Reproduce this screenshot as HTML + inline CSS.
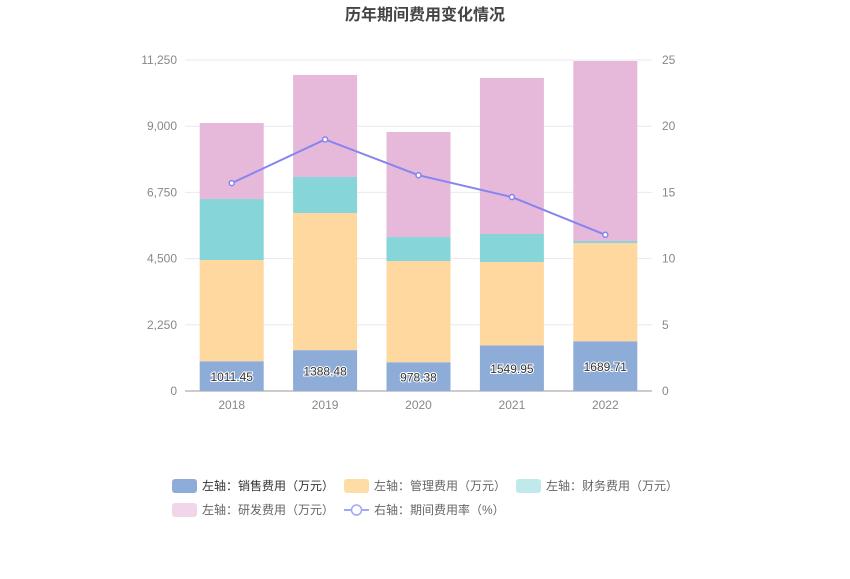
<!DOCTYPE html>
<html><head><meta charset="utf-8"><style>
body{margin:0;background:#fff;font-family:"Liberation Sans","Noto Sans CJK SC",sans-serif;}
</style></head><body>
<svg id="c" width="850" height="574" xmlns="http://www.w3.org/2000/svg" style="font-family:'Liberation Sans','Noto Sans CJK SC',sans-serif">
<text x="425" y="20" text-anchor="middle" font-size="16" font-weight="bold" fill="#444">历年期间费用变化情况</text>
<g id="grid"></g><g id="bars"></g><g id="line"></g><g id="axes"></g>
<g font-size="12" fill="#666">
<rect x="172" y="479" width="25" height="14" rx="3" fill="#8eacd8"/>
<text x="202" y="490" fill="#333">左轴：销售费用（万元）</text>
<rect x="344" y="479" width="25" height="14" rx="3" fill="#fedca6"/>
<text x="374" y="490">左轴：管理费用（万元）</text>
<rect x="516" y="479" width="25" height="14" rx="3" fill="#bfe9ea"/>
<text x="546" y="490">左轴：财务费用（万元）</text>
<rect x="172" y="503" width="25" height="14" rx="3" fill="#f1d6ea"/>
<text x="202" y="514">左轴：研发费用（万元）</text>
<line x1="344" y1="510" x2="369" y2="510" stroke="#a3a7f5" stroke-width="2"/>
<circle cx="356.5" cy="510" r="5" fill="#fff" stroke="#a3a7f5" stroke-width="1.5"/>
<text x="374" y="514">右轴：期间费用率（%）</text>
</g>
</svg>
<script>
const years=["2018","2019","2020","2021","2022"];
const sales=[1011.45,1388.48,978.38,1549.95,1689.71];
const mgmt=[3440,4662,3440,2835,3340];
const finance=[2073,1224,815,951,68];
const rd=[2584,3467,3569,5303,6119];
const rate=[15.7,19.0,16.3,14.65,11.8];
const leftTicks=[0,2250,4500,6750,9000,11250];
const rightTicks=[0,5,10,15,20,25];
const NS="http://www.w3.org/2000/svg";
const X0=185,X1=652,Y0=391,Y1=60;
const yL=v=>Y0-(v/11250)*(Y0-Y1);
const yR=v=>Y0-(v/25)*(Y0-Y1);
const step=(X1-X0)/years.length;
const xC=i=>X0+step*(i+0.5);
function mk(t,a,p){const e=document.createElementNS(NS,t);for(const k in a)e.setAttribute(k,a[k]);document.getElementById(p).appendChild(e);return e;}
leftTicks.forEach((v,i)=>{
 const g=mk('line',{x1:X0,x2:X1,y1:yL(v),y2:yL(v),stroke:i?'#e8e8f0':'#999'},'grid');
 
 
 const t=mk('text',{x:X0-8,y:yL(v)+4,'text-anchor':'end','font-size':12,fill:'#888'},'axes');t.textContent=v.toLocaleString('en-US');
 
 
});
rightTicks.forEach(v=>{
 const t=mk('text',{x:X1+10,y:yR(v)+4,'font-size':12,fill:'#888'},'axes');t.textContent=v;
 
 
});
const series=[[sales,'#8eacd8','bar-sales'],[mgmt,'#fed89f','bar-mgmt'],[finance,'#86d6d9','bar-finance'],[rd,'#e6b8da','bar-rd']];
years.forEach((y,i)=>{
 let acc=0;const w=64,x=xC(i)-w/2;
 series.forEach(([arr,col,nm])=>{
  const b=mk('rect',{x:x,y:yL(acc+arr[i]),width:w,height:yL(acc)-yL(acc+arr[i]),fill:col},'bars');
  
  
  acc+=arr[i];
 });
 const l=mk('text',{x:xC(i),y:yL(sales[i]/2)+5,'text-anchor':'middle','font-size':12,fill:'#333',stroke:'#fff','stroke-width':2,'paint-order':'stroke'},'bars');
 l.textContent=sales[i].toFixed(2).replace(/0$/,'').replace(/\.$/,'');
 
 
 const t=mk('text',{x:xC(i),y:Y0+18,'text-anchor':'middle','font-size':12,fill:'#888'},'axes');t.textContent=y;
 
 
});
const p=mk('polyline',{points:rate.map((v,i)=>xC(i)+','+yR(v)).join(' '),fill:'none',stroke:'#8585f0','stroke-width':2},'line');


rate.forEach((v,i)=>{
 const c=mk('circle',{cx:xC(i),cy:yR(v),r:2.5,fill:'#fff',stroke:'#8585f0','stroke-width':1.5},'line');
 
 
});
</script>
</body></html>
